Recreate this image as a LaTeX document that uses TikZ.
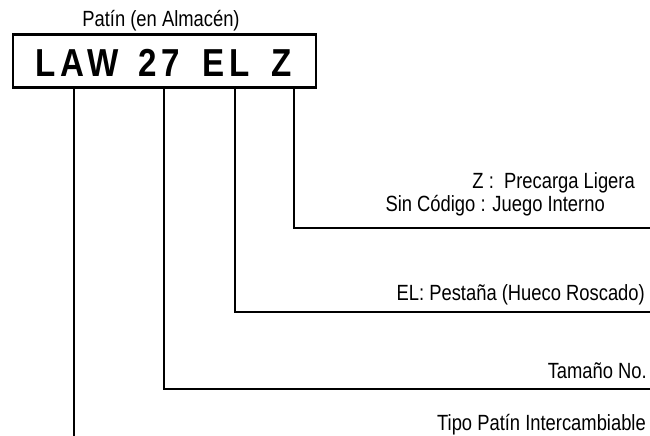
\documentclass[tikz,border=0pt]{standalone}
\usepackage{fontspec}
\setmainfont{Liberation Sans}
\newfontfamily\labfont{Liberation Sans}[FakeStretch=0.835]
\newfontfamily\codefont{Liberation Sans}[FakeStretch=0.85,LetterSpace=12]
\begin{document}
\begin{tikzpicture}[x=1pt,y=-1pt,
  lab/.style={font=\labfont\fontsize{22}{24}\selectfont, inner sep=0pt, anchor=base east},
  code/.style={font=\codefont\bfseries\fontsize{39}{41}\selectfont, inner sep=0pt, anchor=base},
  ln/.style={line width=2.6pt}]
\useasboundingbox (0,0) rectangle (650,436);
\node[draw, line width=2.4pt, minimum width=303pt, minimum height=53pt, inner sep=0pt] (box) at (164.5,61) {};
\node[code] (law) at (77,77) {LAW};
\node[code] (num) at (159,77) {27};
\node[code] (el) at (226,77) {EL};
\node[code] (z) at (282,77) {Z};
\node[lab, anchor=base] (patin) at (161,27) {Patín (en Almacén)};
\node[lab] (zl1) at (635,188) {Z :\ \ Precarga Ligera};
\node[lab] (zl2) at (605,211) {Sin Código : Juego Interno};
\node[lab] (ell) at (645,300) {EL: Pestaña (Hueco Roscado)};
\node[lab] (tam) at (647,378) {Tamaño No.};
\node[lab] (tipo) at (646,430) {Tipo Patín Intercambiable};
\coordinate (zx) at (294,0);
\coordinate (ex) at (235,0);
\coordinate (nx) at (164,0);
\coordinate (lx) at (74,0);
\coordinate (zend) at (650,228);
\coordinate (eend) at (650,312);
\coordinate (nend) at (650,389);
\coordinate (lend) at (74,436);
\draw[ln] (zx |- box.south) |- (zend);
\draw[ln] (ex |- box.south) |- (eend);
\draw[ln] (nx |- box.south) |- (nend);
\draw[ln] (lx |- box.south) -- (lend);
\end{tikzpicture}
\end{document}
